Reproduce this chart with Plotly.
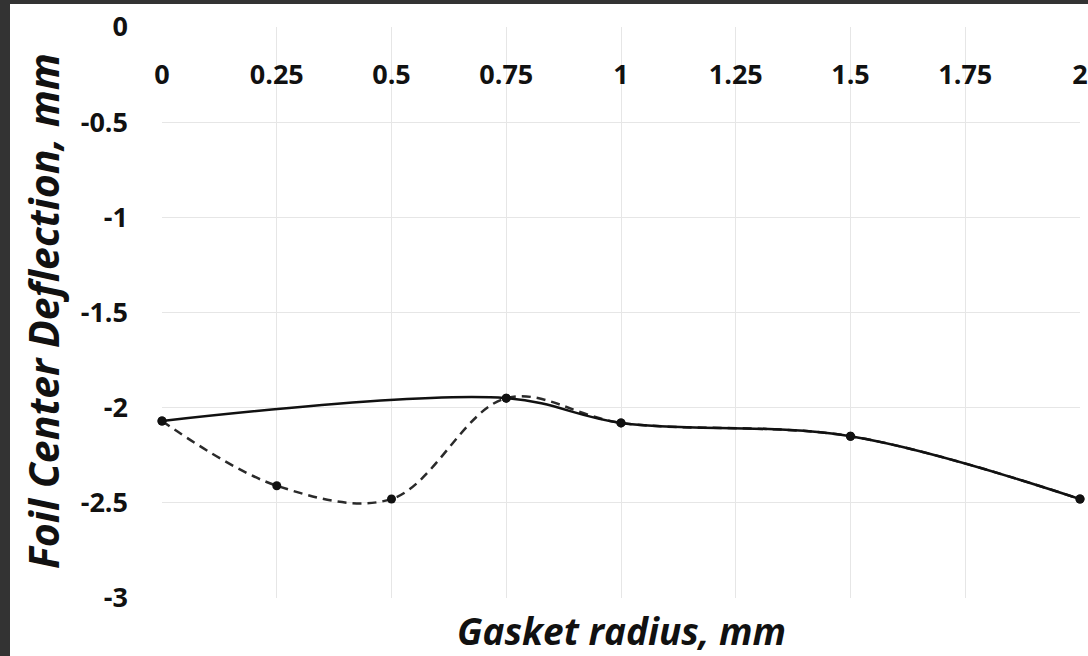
import plotly.graph_objects as go

# Data
radius_solid = [0, 0.75, 1.0, 1.5, 2.0]
deflection_solid = [-2.07, -1.95, -2.08, -2.15, -2.48]

radius_dashed = [0, 0.25, 0.5, 0.75, 1.0, 1.5, 2.0]
deflection_dashed = [-2.07, -2.41, -2.48, -1.95, -2.08, -2.15, -2.48]

x_tickvals = [0, 0.25, 0.5, 0.75, 1, 1.25, 1.5, 1.75, 2]
x_ticktext = ["0", "0.25", "0.5", "0.75", "1", "1.25", "1.5", "1.75", "2"]
y_tickvals = [0, -0.5, -1, -1.5, -2, -2.5, -3]
y_ticktext = ["0", "-0.5", "-1", "-1.5", "-2", "-2.5", "-3"]

W, H = 1088, 656
ML, MR, MT, MB = 162, 8, 27, 58
pw = W - ML - MR
ph = H - MT - MB

def px_x(p):
    return (p - ML) / pw

def px_y(p):
    return (MT + ph - p) / ph

fig = go.Figure()
fig.add_trace(go.Scatter(
    x=radius_dashed, y=deflection_dashed, mode="lines+markers",
    line=dict(color="#2a2a2a", width=2.5, dash="9px,6px", shape="spline", smoothing=1.0),
    marker=dict(color="#111111", size=9),
    showlegend=False, hoverinfo="skip", cliponaxis=False))
fig.add_trace(go.Scatter(
    x=radius_solid, y=deflection_solid, mode="lines+markers",
    line=dict(color="#111111", width=2.5, shape="spline", smoothing=1.0),
    marker=dict(color="#111111", size=9),
    showlegend=False, hoverinfo="skip", cliponaxis=False))

tick_font = dict(family="Open Sans", size=27, color="#111111", weight="bold")
xtitle_font = dict(family="Open Sans", size=37, color="#111111", weight="bold", style="italic")
ytitle_font = dict(family="Open Sans", size=41, color="#111111", weight="bold", style="italic")

fig.update_layout(
    width=W, height=H,
    margin=dict(l=ML, r=MR, t=MT, b=MB, pad=0, autoexpand=False),
    paper_bgcolor="#333333",
    plot_bgcolor="white",
    showlegend=False,
    shapes=[dict(type="rect", xref="paper", yref="paper",
                 x0=px_x(10), x1=px_x(W + 5),
                 y0=px_y(H + 5), y1=px_y(4),
                 fillcolor="white", line=dict(width=0), layer="below")],
)
fig.update_xaxes(
    range=[0, 2], side="top", tickvals=x_tickvals, ticktext=x_ticktext,
    ticklabelposition="inside", ticklabelstandoff=35, ticklabeloverflow="allow",
    automargin=False,
    tickfont=tick_font, showgrid=True, gridcolor="#e6e6e6", gridwidth=1,
    zeroline=False, showline=False, ticks="",
)
fig.update_yaxes(
    range=[-3, 0], tickvals=y_tickvals, ticktext=y_ticktext,
    ticklabelstandoff=33, ticklabeloverflow="allow", tickfont=tick_font,
    automargin=False,
    showgrid=True, gridcolor="#e6e6e6", gridwidth=1,
    zeroline=False, showline=False, ticks="",
)
fig.add_annotation(text="Gasket radius, mm", xref="paper", yref="paper",
                   x=px_x(621), y=px_y(630),
                   showarrow=False, font=xtitle_font, xanchor="center", yanchor="middle")
fig.add_annotation(text="Foil Center Deflection, mm", xref="paper", yref="paper",
                   x=px_x(43), y=px_y(311), textangle=-90,
                   showarrow=False, font=ytitle_font, xanchor="center", yanchor="middle")

fig.write_html("out.html", config={"displayModeBar": False},
               post_script="document.body.style.margin='0';document.body.style.overflow='hidden';")
